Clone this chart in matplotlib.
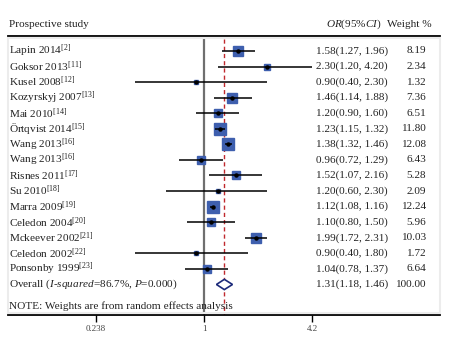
import matplotlib
matplotlib.use("Agg")
import matplotlib.pyplot as plt
import numpy as np
from matplotlib.transforms import blended_transform_factory
from matplotlib.patches import Polygon, Rectangle

plt.rcParams['font.family'] = ['Liberation Serif', 'DejaVu Serif']
plt.rcParams['mathtext.fontset'] = 'custom'
plt.rcParams['mathtext.rm'] = 'Liberation Serif'
plt.rcParams['mathtext.it'] = 'Liberation Serif:italic'
plt.rcParams['mathtext.bf'] = 'Liberation Serif:bold'

studies = ["Lapin 2014", "Goksor 2013", "Kusel 2008", "Kozyrskyj 2007", "Mai 2010",
           "Örtqvist 2014", "Wang 2013", "Wang 2013", "Risnes 2011", "Su 2010",
           "Marra 2009", "Celedon 2004", "Mckeever 2002", "Celedon 2002", "Ponsonby 1999"]
refs = ["2", "11", "12", "13", "14", "15", "16", "16", "17", "18", "19", "20", "21", "22", "23"]
or_vals = [1.58, 2.30, 0.90, 1.46, 1.20, 1.23, 1.38, 0.96, 1.52, 1.20, 1.12, 1.10, 1.99, 0.90, 1.04]
ci_low = [1.27, 1.20, 0.40, 1.14, 0.90, 1.15, 1.32, 0.72, 1.07, 0.60, 1.08, 0.80, 1.72, 0.40, 0.78]
ci_high = [1.96, 4.20, 2.30, 1.88, 1.60, 1.32, 1.46, 1.29, 2.16, 2.30, 1.16, 1.50, 2.31, 1.80, 1.37]
weights = [8.19, 2.34, 1.32, 7.36, 6.51, 11.80, 12.08, 6.43, 5.28, 2.09, 12.24, 5.96, 10.03, 1.72, 6.64]
overall = (1.31, 1.18, 1.46)
overall_weight = 100.00
xticks = [0.238, 1, 4.2]
xtick_labels = ["0.238", "1", "4.2"]

W, H = 468, 346
fig = plt.figure(figsize=(W / 100, H / 100), dpi=100)
ax_l, ax_r, ax_t, ax_b = 8, 440, 36, 315
ax = fig.add_axes([ax_l / W, 1 - ax_b / H, (ax_r - ax_l) / W, (ax_b - ax_t) / H])

px_per_dec = 173.3
x_at = lambda px: 10 ** ((px - 204) / px_per_dec)
ax.set_xscale('log')
ax.set_xlim(x_at(ax_l), x_at(ax_r))
ax.set_ylim(16.96, -0.96)

def fx(px):
    return (px - ax_l) / (ax_r - ax_l)

tr = blended_transform_factory(ax.transAxes, ax.transData)

n = len(studies)
sq_color = '#3e5fae'
tc = '#222222'

# faint frame
fig.patches.append(Rectangle((ax_l / W, 1 - 313 / H), (ax_r - ax_l) / W, (313 - 38) / H,
                             transform=fig.transFigure, fill=False, ec='#ececec', lw=1.5, zorder=0))

# reference lines
ax.plot([1, 1], [-0.75, 16.96], color='#6f6f6f', lw=1.6, zorder=1)
ax.plot([overall[0]] * 2, [-0.75, 16.96], color='#c0282d', lw=1.0, ls=(0, (3, 2.2)), zorder=1)

# CIs, squares, dots
for i in range(n):
    ax.plot([ci_low[i], ci_high[i]], [i, i], color='black', lw=1.1, zorder=3, solid_capstyle='butt')
    side = 3.45 * np.sqrt(weights[i])
    ax.plot([or_vals[i]], [i], marker='s', ms=side * 0.72, color=sq_color, mec=sq_color, zorder=2, ls='none')
    ax.plot([or_vals[i]], [i], marker='o', ms=2.2, color='black', zorder=4, ls='none')

# overall diamond
yo = n
dh = 0.33
diamond = Polygon([[overall[1], yo], [overall[0], yo - dh], [overall[2], yo], [overall[0], yo + dh]],
                  closed=True, fc='white', ec='#1c2a7a', lw=1.2, zorder=5)
ax.add_patch(diamond)

fs = 8.1
for i in range(n):
    ax.text(fx(9), i, studies[i] + r"$^{[" + refs[i] + r"]}$", transform=tr, ha='left', va='center',
            fontsize=fs, color=tc)
    ax.text(fx(388), i, f"{or_vals[i]:.2f}({ci_low[i]:.2f}, {ci_high[i]:.2f})", transform=tr,
            ha='right', va='center', fontsize=fs, color=tc)
    ax.text(fx(426), i, f"{weights[i]:.2f}", transform=tr, ha='right', va='center', fontsize=fs, color=tc)

ax.text(fx(9), yo, r"Overall ($\mathit{I}$-$\mathit{squared}$=86.7%, $\mathit{P}$=0.000)", transform=tr,
        ha='left', va='center', fontsize=fs, color=tc)
ax.text(fx(388), yo, f"{overall[0]:.2f}({overall[1]:.2f}, {overall[2]:.2f})", transform=tr,
        ha='right', va='center', fontsize=fs, color=tc)
ax.text(fx(426), yo, f"{overall_weight:.2f}", transform=tr, ha='right', va='center', fontsize=fs, color=tc)

ax.text(fx(9), 16.4, "NOTE: Weights are from random effects analysis", transform=tr,
        ha='left', va='center', fontsize=fs, color=tc)

# headers
ax.text(fx(9), -1.7, "Prospective study", transform=tr, ha='left', va='center', fontsize=fs,
        color=tc, clip_on=False)
ax.text(fx(326), -1.7, r"$\mathit{OR}$(95%$\mathit{CI}$)", transform=tr, ha='left', va='center',
        fontsize=fs, color=tc, clip_on=False)
ax.text(fx(387), -1.7, "Weight %", transform=tr, ha='left', va='center', fontsize=fs,
        color=tc, clip_on=False)

# axes styling
for s in ['left', 'right']:
    ax.spines[s].set_visible(False)
ax.spines['top'].set_linewidth(1.3)
ax.spines['bottom'].set_linewidth(1.3)
ax.set_yticks([])
ax.set_xticks(xticks)
ax.set_xticklabels(xtick_labels)
ax.xaxis.set_minor_locator(matplotlib.ticker.NullLocator())
ax.tick_params(axis='x', direction='out', length=5, width=1, pad=2, labelsize=6.5, labelcolor='#444444')

fig.savefig("out.png", dpi=100)
